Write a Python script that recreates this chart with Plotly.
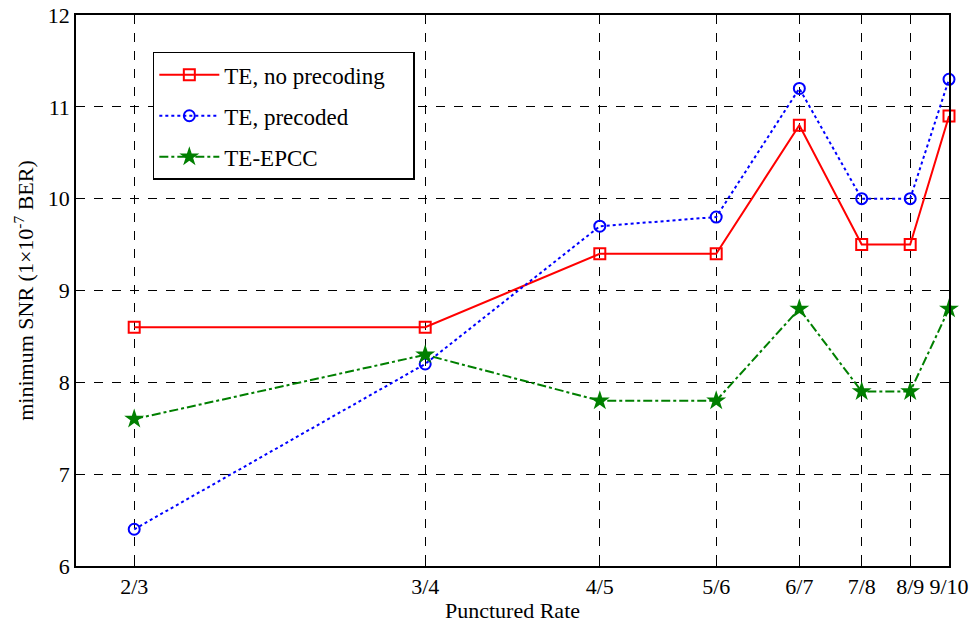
import plotly.graph_objects as go

rates = [2/3, 3/4, 4/5, 5/6, 6/7, 7/8, 8/9, 9/10]
rate_labels = ["2/3", "3/4", "4/5", "5/6", "6/7", "7/8", "8/9", "9/10"]
te_no_precoding = [8.6, 8.6, 9.4, 9.4, 10.8, 9.5, 9.5, 10.9]
te_precoded = [6.4, 8.2, 9.7, 9.8, 11.2, 10.0, 10.0, 11.3]
te_epcc = [7.6, 8.3, 7.8, 7.8, 8.8, 7.9, 7.9, 8.8]
y_ticks = [6, 7, 8, 9, 10, 11, 12]

FONT = "Liberation Serif, Times New Roman, serif"
PAD = "\u00a0" * 4

fig = go.Figure()
fig.add_trace(go.Scatter(x=rates, y=te_no_precoding, name="TE, no precoding" + PAD,
    mode="lines+markers", line=dict(color="#ff0000", width=2), legendgroup="a", cliponaxis=False,
    marker=dict(symbol="square-open", size=11, color="#ff0000", line=dict(width=2))))
fig.add_trace(go.Scatter(x=rates, y=te_precoded, name="TE, precoded",
    mode="lines+markers", line=dict(color="#0000ff", width=2, dash="dot"), legendgroup="b", cliponaxis=False,
    marker=dict(symbol="circle-open", size=11, color="#0000ff", line=dict(width=2))))
fig.add_trace(go.Scatter(x=rates, y=te_epcc, name="TE-EPCC",
    mode="lines+markers", line=dict(color="#007f00", width=2, dash="dashdot"), legendgroup="c", cliponaxis=False,
    marker=dict(symbol="star", size=15, color="#007f00", line=dict(width=0))))

axis_common = dict(showline=True, linecolor="black", linewidth=1.5, mirror="ticks",
    ticks="inside", ticklen=6, tickcolor="black", automargin=False,
    showgrid=True, gridcolor="black", griddash="dash", gridwidth=1,
    zeroline=False, tickfont=dict(family=FONT, size=22, color="black"))

fig.update_layout(
    width=976, height=623,
    margin=dict(l=76, r=27, t=15, b=57),
    paper_bgcolor="white", plot_bgcolor="white",
    font=dict(family=FONT, color="black"),
    xaxis=dict(range=[0.65, 0.9], tickvals=rates, ticktext=rate_labels,
        title=dict(text="Punctured Rate", font=dict(family=FONT, size=22), standoff=5),
        **axis_common),
    yaxis=dict(range=[6, 12], tickvals=y_ticks,
        title=dict(text="minimum SNR (1×10<sup>-7</sup> BER)", font=dict(family=FONT, size=22), standoff=8),
        **axis_common),
    legend=dict(x=0.088, y=0.933, xanchor="left", yanchor="top",
        bgcolor="white", bordercolor="black", borderwidth=1.5,
        font=dict(family=FONT, size=23), tracegroupgap=8, itemwidth=60),
    showlegend=True,
)

fig.write_html("out.html")
